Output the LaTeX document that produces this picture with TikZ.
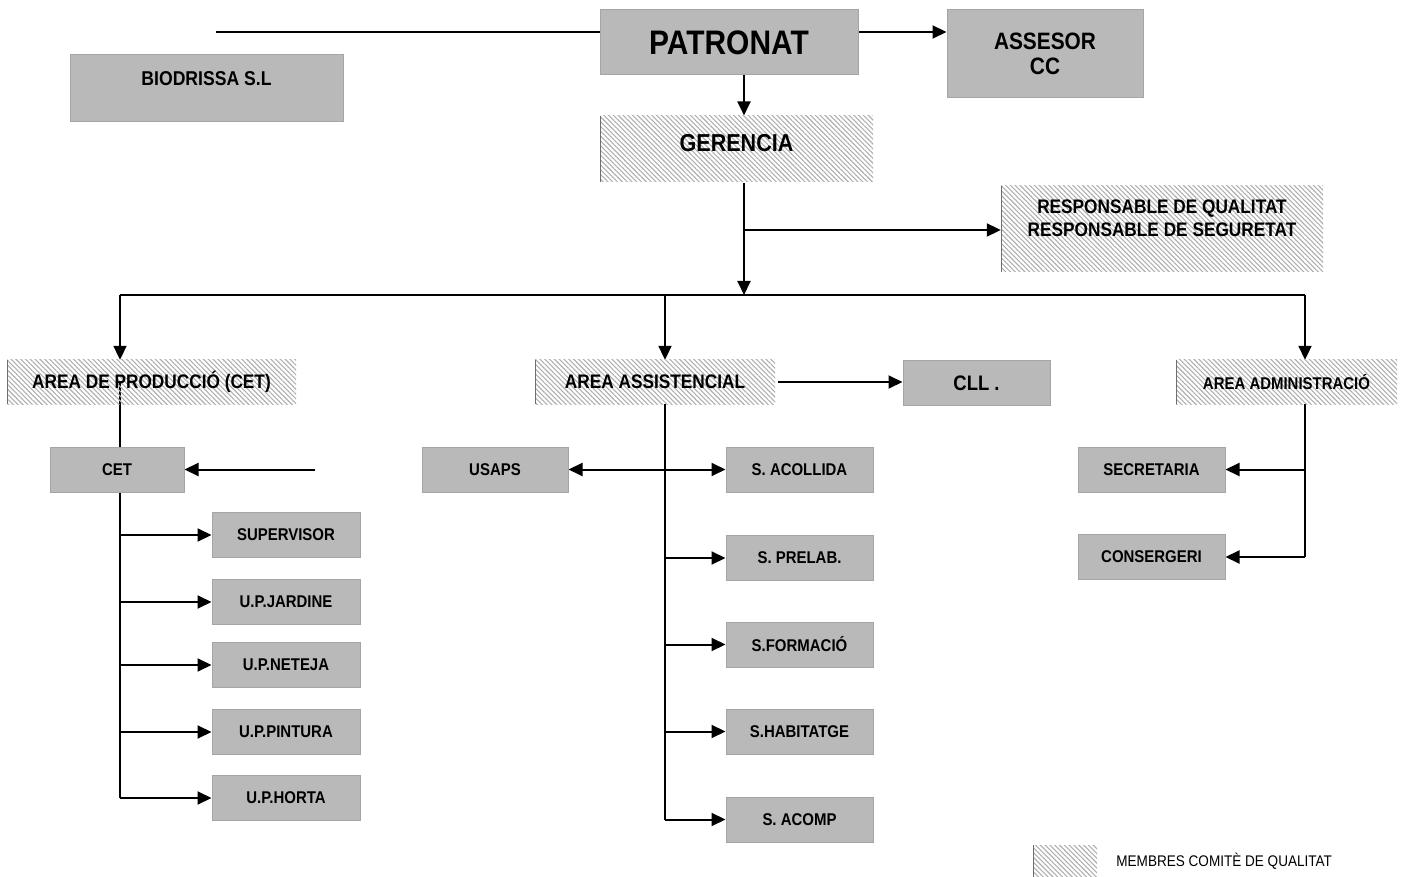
\documentclass[tikz,border=0pt]{standalone}
\usepackage{fontspec}
\setmainfont{Liberation Sans}[FakeStretch=0.88]
\usetikzlibrary{arrows.meta,patterns.meta,positioning,backgrounds}
\definecolor{boxgray}{RGB}{185,185,185}
\definecolor{boxedge}{RGB}{165,165,165}
\definecolor{hatchgray}{RGB}{175,175,175}
\definecolor{hatchedge}{RGB}{110,110,110}

\begin{document}
\begin{tikzpicture}[x=1pt, y=-1pt,
  box/.style={rectangle, inner sep=0pt, align=center, font=\fontsize{17}{20}\selectfont\bfseries},
  grey/.style={box, fill=boxgray, draw=boxedge, line width=1pt},
  hatch/.style={box, pattern={Lines[angle=-45,distance=3.4pt,line width=1.1pt]}, pattern color=hatchgray,
    path picture={\draw[hatchedge, line width=1.5pt] (path picture bounding box.north west) -- (path picture bounding box.south west);}},
  sub/.style={grey, minimum width=147pt, minimum height=45pt},
  link/.style={line width=2pt},
  arr/.style={link, -{Triangle[length=14pt,width=13pt]}},
  arrboth/.style={link, {Triangle[length=14pt,width=13pt]}-{Triangle[length=14pt,width=13pt]}}
]
  \useasboundingbox (0,0) rectangle (1409,877);

  % top
  \node[grey, minimum width=258pt, minimum height=65pt, font=\fontsize{34}{36}\selectfont\bfseries] (patronat) at (729,42.5) {PATRONAT};
  \node[grey, minimum width=196pt, minimum height=88pt, font=\fontsize{23.7}{25}\selectfont\bfseries] (assesor) at (1045,54) {ASSESOR\\CC};
  \node[grey, minimum width=273pt, minimum height=67pt, font=\fontsize{20}{22}\selectfont\bfseries, text height=14pt, text depth=20pt] (biodrissa) at (206.5,88.5) {BIODRISSA S.L};
  \node[hatch, minimum width=273pt, minimum height=66pt, font=\fontsize{24.5}{26}\selectfont\bfseries, text height=17.5pt, text depth=13pt] (gerencia) at (736.5,149) {GERENCIA};
  \node[hatch, minimum width=322pt, minimum height=86pt, font=\fontsize{19.6}{23}\selectfont\bfseries, text depth=21pt] (responsable) at (1162,229) {RESPONSABLE DE QUALITAT\\RESPONSABLE DE SEGURETAT};

  % areas
  \node[hatch, minimum width=289pt, minimum height=44pt, font=\fontsize{19.6}{22}\selectfont\bfseries] (areaprod) at (151.5,382) {AREA DE PRODUCCIÓ (CET)};
  \node[hatch, minimum width=240pt, minimum height=44pt, font=\fontsize{19.6}{22}\selectfont\bfseries] (areaassist) at (655,382) {AREA ASSISTENCIAL};
  \node[hatch, minimum width=221pt, minimum height=44pt] (areaadmin) at (1286.5,382) {AREA ADMINISTRACIÓ};
  \node[grey, minimum width=147pt, minimum height=44pt, font=\fontsize{21}{23}\selectfont\bfseries] (cll) at (976.5,383) {CLL .};

  % produccio
  \node[grey, minimum width=134pt, minimum height=45pt] (cet) at (117,469.5) {CET};
  \node[sub, minimum width=148pt] (supervisor) at (286,535) {SUPERVISOR};
  \node[sub, minimum width=148pt] (jardine) at (286,602) {U.P.JARDINE};
  \node[sub, minimum width=148pt] (neteja) at (286,665) {U.P.NETEJA};
  \node[sub, minimum width=148pt] (pintura) at (286,732) {U.P.PINTURA};
  \node[sub, minimum width=148pt] (horta) at (286,798) {U.P.HORTA};

  % assistencial
  \node[sub, minimum width=146pt] (usaps) at (495,469.5) {USAPS};
  \node[sub] (acollida) at (799.5,469.5) {S. ACOLLIDA};
  \node[sub] (prelab) at (799.5,558) {S. PRELAB.};
  \node[sub] (formacio) at (799.5,644.5) {S.FORMACIÓ};
  \node[sub] (habitatge) at (799.5,731.5) {S.HABITATGE};
  \node[sub] (acomp) at (799.5,819.5) {S. ACOMP};

  % administracio
  \node[sub] (secretaria) at (1151.5,469.5) {SECRETARIA};
  \node[sub] (consergeri) at (1151.5,557) {CONSERGERI};

  % legend
  \node[hatch, minimum width=64pt, minimum height=32pt] (legend) at (1065,861) {};
  \node[right=19pt of legend, inner sep=0pt, font=\fontsize{15.4}{17}\selectfont] (legendtxt) {MEMBRES COMITÈ DE QUALITAT};

  \coordinate (lft) at (216,32);
  \coordinate (trunk) at (744,230);
  \coordinate (pl) at (120,295);
  \coordinate (pa) at (665,295);
  \coordinate (pr) at (1305,295);
  \coordinate (cetin) at (315,469.5);

  \begin{scope}[on background layer]
    \draw[link] (lft) -- (lft -| patronat.west);
    \draw[arr] (lft -| patronat.east) -- (lft -| assesor.west);
    \draw[arr] (trunk |- patronat.south) -- (trunk |- gerencia.north);
    \draw[arr] (trunk |- gerencia.south) -- (trunk |- pl);
    \draw[arr] (trunk) -- (trunk -| responsable.west);
    \draw[link] (pl) -- (pr);
    \draw[arr] (pl) -- (pl |- areaprod.north);
    \draw[arr] (pa) -- (pa |- areaassist.north);
    \draw[arr] (pr) -- (pr |- areaadmin.north);
    \draw[arr] ([xshift=3pt]areaassist.east) -- (areaassist.east -| cll.west);

    \draw[link] (pl |- areaprod) -- (pl |- horta);
    \draw[arr] (cetin) -- (cet.east);
    \foreach \n in {supervisor,jardine,neteja,pintura,horta}
      \draw[arr] (pl |- \n) -- (\n.west);

    \draw[link] (pa |- areaassist.south) -- (pa |- acomp);
    \draw[arrboth] (usaps.east) -- (acollida.west);
    \foreach \n in {prelab,formacio,habitatge,acomp}
      \draw[arr] (pa |- \n) -- (\n.west);

    \draw[link] (pr |- areaadmin.south) -- (pr |- consergeri);
    \foreach \n in {secretaria,consergeri}
      \draw[arr] (pr |- \n) -- (\n.east);
  \end{scope}
\end{tikzpicture}
\end{document}
